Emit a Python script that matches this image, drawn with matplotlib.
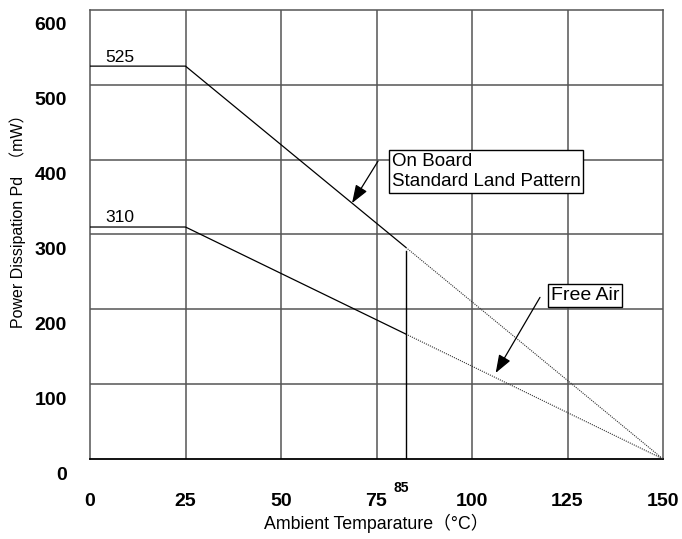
import matplotlib
matplotlib.use("Agg")
import matplotlib.pyplot as plt
from matplotlib.transforms import offset_copy

plt.rcParams['font.family'] = ['Liberation Sans', 'Noto Sans CJK JP']

# Donnees (la rupture "85" est dessinee un peu avant 85)
temps = [0, 25, 82.7, 150]
pd_board = [525, 525, 282.7, 0]
pd_air = [310, 310, 166.9, 0]
x_ticks = [0, 25, 50, 75, 100, 125, 150]
y_ticks = [0, 100, 200, 300, 400, 500, 600]

fig = plt.figure(figsize=(6.82, 5.39), dpi=100)
ax = fig.add_axes([90 / 682, 1 - 459 / 539, 573 / 682, 449 / 539])
ax.set_xlim(0, 150)
ax.set_ylim(0, 600)
ax.set_xticks([])
ax.set_yticks([])

grid_col = '#555555'
for gx in x_ticks[1:-1]:
    ax.axvline(gx, color=grid_col, lw=1.1, zorder=1)
for gy in y_ticks[1:-1]:
    ax.axhline(gy, color=grid_col, lw=1.1, zorder=1)
for side in ['top', 'right', 'left']:
    ax.spines[side].set_color(grid_col)
    ax.spines[side].set_linewidth(1.1)
ax.spines['bottom'].set_color('black')
ax.spines['bottom'].set_linewidth(1.3)

# courbes : trait plein jusqu'a la rupture, pointille ensuite
for serie in (pd_board, pd_air):
    ax.plot(temps[:3], serie[:3], color='black', lw=0.9, zorder=3)
    ax.plot(temps[2:], serie[2:], color='#333333', lw=0.8, ls=(0, (1, 1)), zorder=3)

ax.plot([temps[2], temps[2]], [0, pd_board[2] - 5], color='black', lw=1.0, zorder=3)

ax.text(4, 531, '525', fontsize=12.5, va='baseline', ha='left')
ax.text(4, 317, '310', fontsize=12.5, va='baseline', ha='left')

# labels des ticks decales comme sur l'original
tx = offset_copy(ax.get_xaxis_transform(), fig=fig, x=0, y=-42, units='dots')
for v in x_ticks:
    ax.text(v, 0, str(v), transform=tx, ha='center', va='center',
            fontsize=14, fontweight='bold')
ty = offset_copy(ax.get_yaxis_transform(), fig=fig, x=-23, y=-16, units='dots')
for v in y_ticks:
    ax.text(0, v, str(v), transform=ty, ha='right', va='center',
            fontsize=14, fontweight='bold')
t85 = offset_copy(ax.get_xaxis_transform(), fig=fig, x=-5, y=-29, units='dots')
ax.text(temps[2], 0, '85', transform=t85, ha='center', va='center', fontsize=10,
        fontweight='bold')

box = dict(boxstyle='square,pad=0.15', fc='white', ec='black', lw=1.0)
ax.text(79, 384, 'On Board\nStandard Land Pattern', fontsize=13.5, ha='left',
        va='center', bbox=box, zorder=5, linespacing=1.25)
ax.text(120.7, 218, 'Free Air', fontsize=14, ha='left', va='center',
        bbox=box, zorder=5)

arrow = dict(arrowstyle='-|>,head_length=1.1,head_width=0.4', color='black',
             lw=0.9, shrinkA=0, shrinkB=0)
ax.annotate('', xy=(68.6, 342), xytext=(75.4, 398), arrowprops=arrow, zorder=6)
ax.annotate('', xy=(106.2, 115), xytext=(117.8, 216), arrowprops=arrow, zorder=6)

fig.text(376 / 682, 1 - 523 / 539, 'Ambient Temparature（°C）', fontsize=12.8,
         ha='center', va='center')
fig.text(18 / 682, 1 - 217 / 539, 'Power Dissipation Pd  （mW）', fontsize=11.5,
         ha='center', va='center', rotation=90)

fig.savefig('out.png', dpi=100)
